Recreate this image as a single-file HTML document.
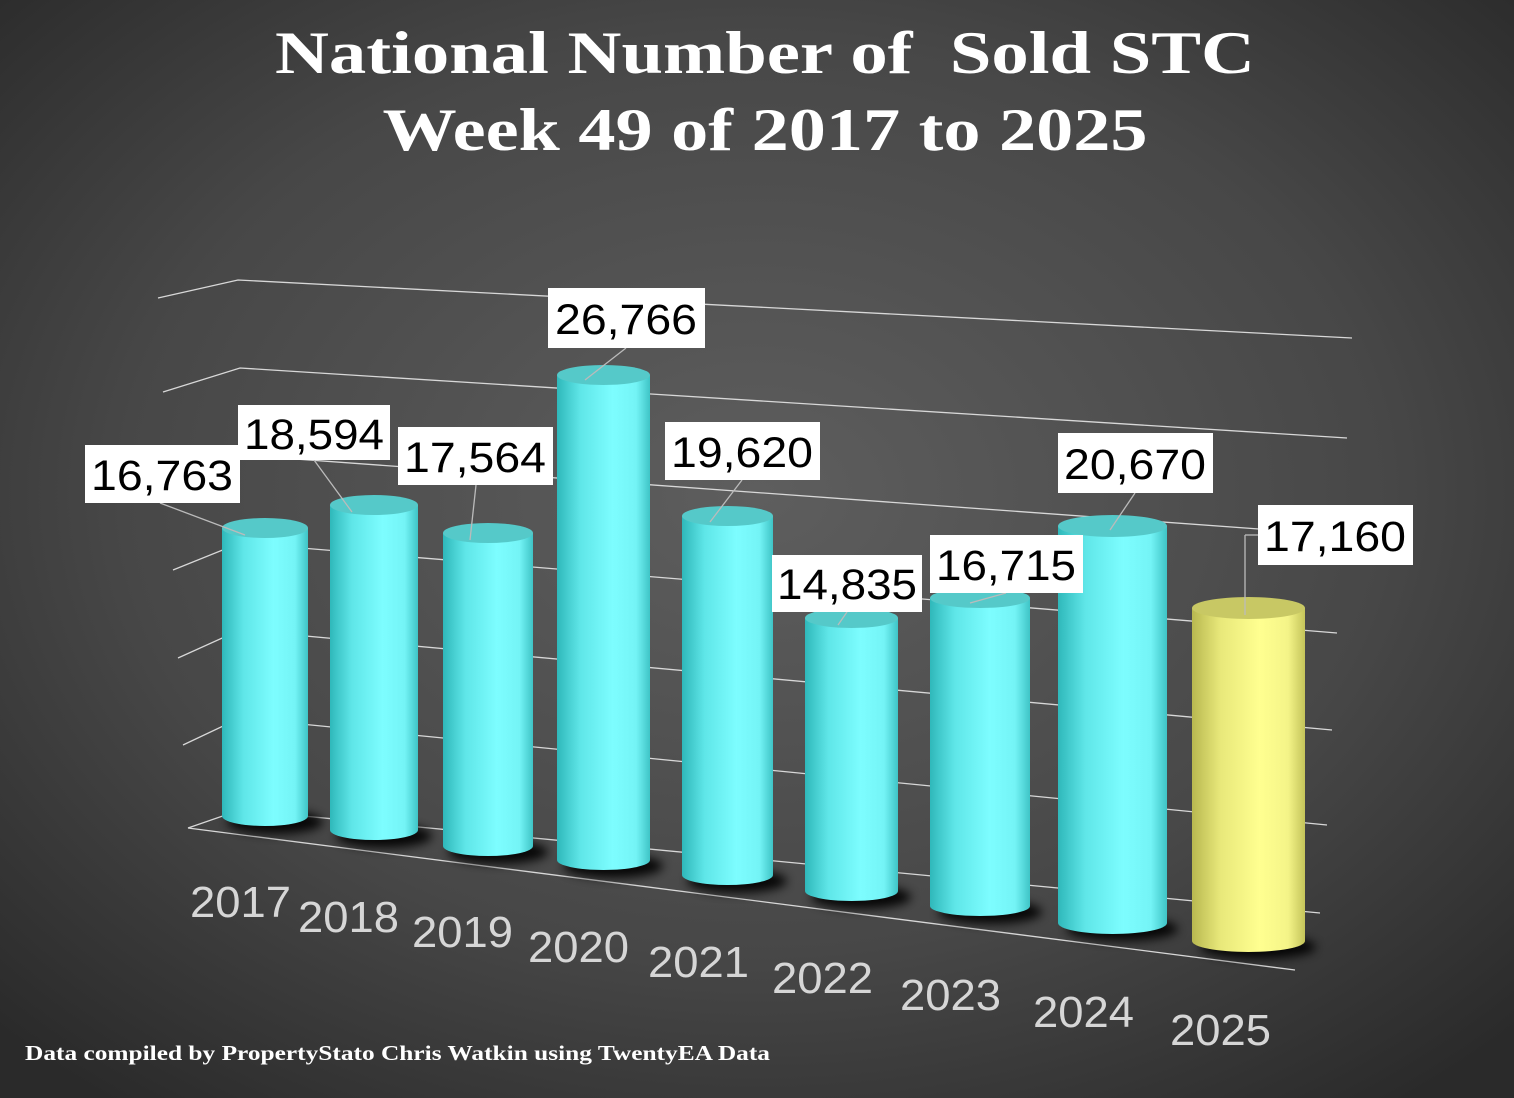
<!DOCTYPE html>
<html><head><meta charset="utf-8"><style>
html,body{margin:0;padding:0;background:#333}
svg{display:block}
</style></head><body>
<svg width="1514" height="1098" viewBox="0 0 1514 1098" xmlns="http://www.w3.org/2000/svg">
<defs>
<radialGradient id="bg" cx="50%" cy="45%" r="70%">
<stop offset="0" stop-color="#5e5e5e"/><stop offset="0.6" stop-color="#474747"/><stop offset="1" stop-color="#2a2a2a"/>
</radialGradient>
<linearGradient id="cy" x1="0" x2="1" y1="0" y2="0">
<stop offset="0" stop-color="#2fb8ba"/><stop offset="0.25" stop-color="#5fe6e8"/><stop offset="0.6" stop-color="#7dfdff"/><stop offset="0.85" stop-color="#74f4f6"/><stop offset="1" stop-color="#3fc4c6"/>
</linearGradient>
<linearGradient id="ye" x1="0" x2="1" y1="0" y2="0">
<stop offset="0" stop-color="#b8b850"/><stop offset="0.25" stop-color="#e8e87a"/><stop offset="0.6" stop-color="#ffff90"/><stop offset="0.85" stop-color="#f4f488"/><stop offset="1" stop-color="#c4c45a"/>
</linearGradient>
<filter id="bl"><feGaussianBlur stdDeviation="5"/></filter>
</defs>
<rect width="1514" height="1098" fill="url(#bg)"/>
<g font-family="'Liberation Serif',serif" font-weight="bold" fill="#fff" text-anchor="middle" font-size="60">
<text x="765" y="73" textLength="980" lengthAdjust="spacingAndGlyphs" xml:space="preserve">National Number of  Sold STC</text>
<text x="765" y="150" textLength="765" lengthAdjust="spacingAndGlyphs">Week 49 of 2017 to 2025</text>
</g>
<g stroke="#d8d8d8" stroke-width="1.3" fill="none">
<polyline points="158,298 238,280 1352,338"/>
<polyline points="163,392 240,368 1347,438"/>
<polyline points="168,478 240,455 1342,535"/>
<polyline points="173,570 240,543 1337,633"/>
<polyline points="178,658 240,630 1332,730"/>
<polyline points="183,745 240,718 1327,825"/>
<polyline points="188,828 240,810 1320,913"/>
<line x1="188" y1="828" x2="1295" y2="970"/>
</g>
<g fill="#000" filter="url(#bl)" opacity="0.9">
<ellipse cx="275" cy="822" rx="48" ry="12"/><ellipse cx="384" cy="836" rx="48" ry="12"/><ellipse cx="498" cy="852" rx="50" ry="12"/><ellipse cx="613" cy="866" rx="50" ry="12"/><ellipse cx="737" cy="881" rx="50" ry="12"/><ellipse cx="861" cy="897" rx="50" ry="12"/><ellipse cx="990" cy="912" rx="52" ry="12"/><ellipse cx="1122" cy="929" rx="56" ry="12"/><ellipse cx="1258" cy="947" rx="58" ry="12"/>
</g>
<g>
<path d="M222,528 L222,816 A43,10 0 0 0 308,816 L308,528 Z" fill="url(#cy)"/><ellipse cx="265" cy="528" rx="43" ry="10" fill="#55c9c9"/>
<path d="M330,505 L330,830 A44,10 0 0 0 418,830 L418,505 Z" fill="url(#cy)"/><ellipse cx="374" cy="505" rx="44" ry="10" fill="#55c9c9"/>
<path d="M443,533 L443,846 A45,10 0 0 0 533,846 L533,533 Z" fill="url(#cy)"/><ellipse cx="488" cy="533" rx="45" ry="10" fill="#55c9c9"/>
<path d="M557,375 L557,860 A46.5,10 0 0 0 650,860 L650,375 Z" fill="url(#cy)"/><ellipse cx="603.5" cy="375" rx="46.5" ry="10" fill="#55c9c9"/>
<path d="M682,516 L682,875 A45.5,10 0 0 0 773,875 L773,516 Z" fill="url(#cy)"/><ellipse cx="727.5" cy="516" rx="45.5" ry="10" fill="#55c9c9"/>
<path d="M805,618 L805,891 A46.5,10 0 0 0 898,891 L898,618 Z" fill="url(#cy)"/><ellipse cx="851.5" cy="618" rx="46.5" ry="10" fill="#55c9c9"/>
<path d="M930,598 L930,906 A50,10 0 0 0 1030,906 L1030,598 Z" fill="url(#cy)"/><ellipse cx="980" cy="598" rx="50" ry="10" fill="#55c9c9"/>
<path d="M1058,526 L1058,923 A54.5,11 0 0 0 1167,923 L1167,526 Z" fill="url(#cy)"/><ellipse cx="1112.5" cy="526" rx="54.5" ry="11" fill="#55c9c9"/>
<path d="M1192,608 L1192,941 A56.5,11 0 0 0 1305,941 L1305,608 Z" fill="url(#ye)"/><ellipse cx="1248.5" cy="608" rx="56.5" ry="11" fill="#c8c864"/>
</g>
<g stroke="#bbb" stroke-width="1.3">
<line x1="160" y1="503" x2="245" y2="535"/>
<line x1="314" y1="460" x2="352" y2="512"/>
<line x1="476" y1="485" x2="470" y2="540"/>
<line x1="626" y1="348" x2="585" y2="380"/>
<line x1="742" y1="480" x2="710" y2="522"/>
<line x1="847" y1="612" x2="838" y2="625"/>
<line x1="1006" y1="593" x2="970" y2="603"/>
<line x1="1135" y1="493" x2="1110" y2="530"/>
<line x1="1258" y1="535" x2="1245" y2="535"/><line x1="1245" y1="535" x2="1245" y2="615"/>
</g>
<g font-family="'Liberation Sans',sans-serif" font-size="43" fill="#000" text-anchor="middle">
<rect x="85" y="445" width="155" height="58" fill="#fff"/><text x="162" y="490" textLength="142" lengthAdjust="spacingAndGlyphs">16,763</text>
<rect x="238" y="405" width="152" height="55" fill="#fff"/><text x="314" y="449" textLength="140" lengthAdjust="spacingAndGlyphs">18,594</text>
<rect x="398" y="427" width="155" height="58" fill="#fff"/><text x="475" y="472" textLength="142" lengthAdjust="spacingAndGlyphs">17,564</text>
<rect x="548" y="288" width="157" height="60" fill="#fff"/><text x="626" y="334" textLength="142" lengthAdjust="spacingAndGlyphs">26,766</text>
<rect x="665" y="422" width="155" height="58" fill="#fff"/><text x="742" y="467" textLength="142" lengthAdjust="spacingAndGlyphs">19,620</text>
<rect x="772" y="555" width="150" height="57" fill="#fff"/><text x="847" y="599" textLength="140" lengthAdjust="spacingAndGlyphs">14,835</text>
<rect x="930" y="535" width="153" height="58" fill="#fff"/><text x="1006" y="580" textLength="140" lengthAdjust="spacingAndGlyphs">16,715</text>
<rect x="1058" y="433" width="155" height="60" fill="#fff"/><text x="1135" y="479" textLength="142" lengthAdjust="spacingAndGlyphs">20,670</text>
<rect x="1258" y="505" width="155" height="60" fill="#fff"/><text x="1335" y="551" textLength="142" lengthAdjust="spacingAndGlyphs">17,160</text>
</g>
<g font-family="'Liberation Sans',sans-serif" font-size="44" fill="#d6d6d6">
<text x="190" y="917" textLength="101" lengthAdjust="spacingAndGlyphs">2017</text><text x="298" y="932" textLength="101" lengthAdjust="spacingAndGlyphs">2018</text><text x="412" y="947" textLength="101" lengthAdjust="spacingAndGlyphs">2019</text><text x="528" y="962" textLength="101" lengthAdjust="spacingAndGlyphs">2020</text><text x="648" y="977" textLength="101" lengthAdjust="spacingAndGlyphs">2021</text><text x="772" y="993" textLength="101" lengthAdjust="spacingAndGlyphs">2022</text><text x="900" y="1010" textLength="101" lengthAdjust="spacingAndGlyphs">2023</text><text x="1033" y="1027" textLength="101" lengthAdjust="spacingAndGlyphs">2024</text><text x="1170" y="1045" textLength="101" lengthAdjust="spacingAndGlyphs">2025</text>
</g>
<text x="25" y="1060" font-family="'Liberation Serif',serif" font-weight="bold" font-size="21" fill="#fff" textLength="745" lengthAdjust="spacingAndGlyphs">Data compiled by PropertyStato Chris Watkin using TwentyEA Data</text>
</svg>
</body></html>
